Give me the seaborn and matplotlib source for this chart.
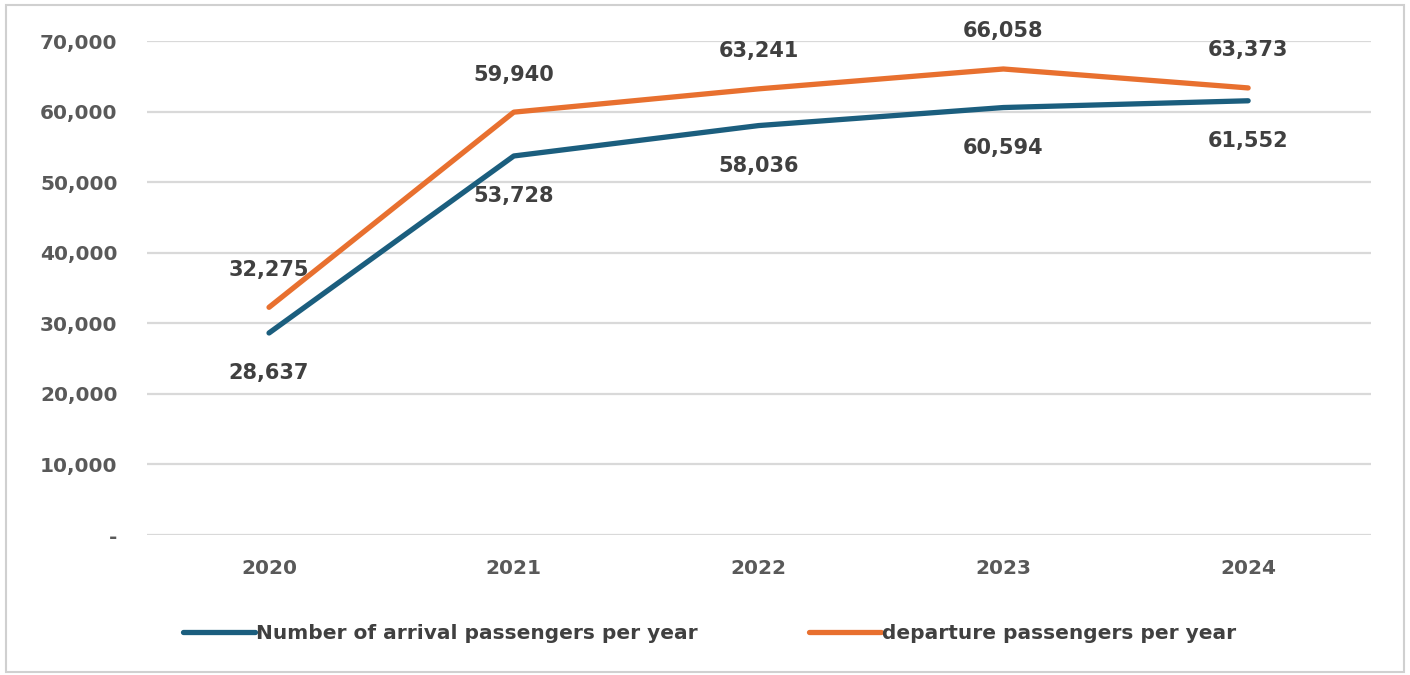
import pandas as pd
import matplotlib.pyplot as plt
import seaborn as sns
from matplotlib.ticker import FuncFormatter

years = ["2020", "2021", "2022", "2023", "2024"]
arrivals = [28637, 53728, 58036, 60594, 61552]
departures = [32275, 59940, 63241, 66058, 63373]
series_names = ["Number of arrival passengers per year", "departure passengers per year"]

df = pd.DataFrame({
    "year": years * 2,
    "passengers": arrivals + departures,
    "series": [series_names[0]] * 5 + [series_names[1]] * 5,
})

sns.set_style("white")
plt.rcParams["font.family"] = ["DejaVu Sans"]

palette = {series_names[0]: "#1b5e7e", series_names[1]: "#e8702f"}
txt = "#404040"

fig = plt.figure(figsize=(14.1, 6.75), dpi=100)
ax = fig.add_axes([0.104, 0.2074, 0.868, 0.7316])
sns.lineplot(data=df, x="year", y="passengers", hue="series", palette=palette,
             linewidth=3.8, sort=False, ax=ax)

ax.set_ylim(0, 70000)
ax.set_xlim(-0.5, 4.5)
ax.set_yticks(range(0, 70001, 10000))
ax.yaxis.set_major_formatter(FuncFormatter(lambda v, p: "-" if v == 0 else f"{v:,.0f}"))
ax.grid(axis="y", color="#d9d9d9", linewidth=1.6)
ax.set_axisbelow(True)
for s in ax.spines.values():
    s.set_visible(False)
ax.set_xlabel("")
ax.set_ylabel("")
ax.tick_params(axis="y", length=0, labelsize=14.5, labelcolor="#595959", pad=21)
ax.tick_params(axis="x", length=0, labelsize=14.5, labelcolor="#595959", pad=17)
for lab in ax.get_xticklabels() + ax.get_yticklabels():
    lab.set_fontweight("bold")

# data labels: departures above the line, arrivals below
for i, v in enumerate(departures):
    ax.annotate(f"{v:,}", (i, v), xytext=(0, 27), textcoords="offset points",
                ha="center", va="center", fontsize=15, fontweight="bold", color=txt)
for i, v in enumerate(arrivals):
    ax.annotate(f"{v:,}", (i, v), xytext=(0, -29), textcoords="offset points",
                ha="center", va="center", fontsize=15, fontweight="bold", color=txt)

handles, labels = ax.get_legend_handles_labels()
ax.legend(handles, labels, loc="center", bbox_to_anchor=(0.46, -0.2), ncol=2,
          frameon=False, handlelength=3.6, handletextpad=0.05,
          columnspacing=5.5, labelcolor="#404040", prop={"weight": "bold", "size": 14.5})

fig.patches.append(plt.Rectangle((0.004, 0.004), 0.992, 0.988, transform=fig.transFigure,
                                 fill=False, edgecolor="#d0d0d0", linewidth=1.5))
fig.savefig("out.png", dpi=100)
